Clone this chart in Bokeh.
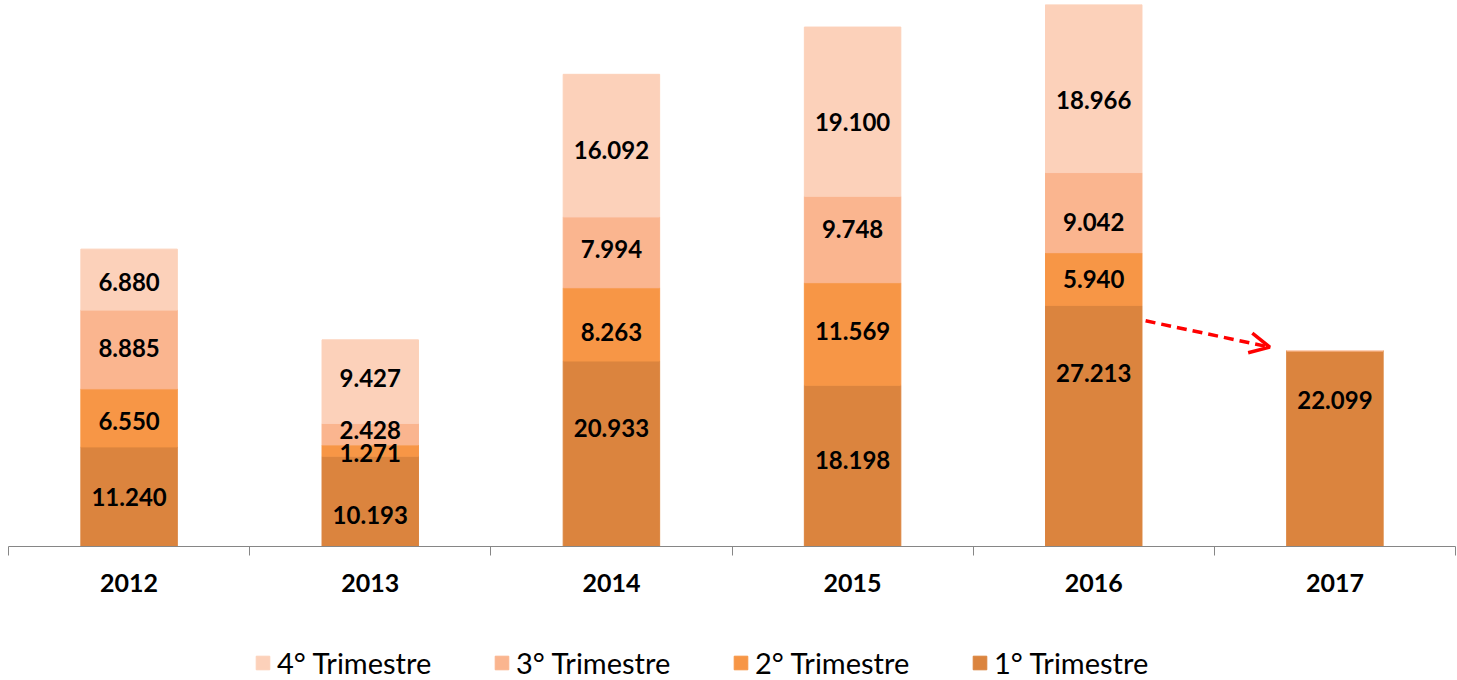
from bokeh.plotting import figure
from bokeh.layouts import column
from bokeh.models import FixedTicker, Range1d, Arrow, OpenHead, Legend, LegendItem, ColumnDataSource
from bokeh.embed import file_html
from bokeh.resources import INLINE
from bokeh.core.properties import value

# ---- data ----
years = ["2012", "2013", "2014", "2015", "2016", "2017"]
q1 = [11240, 10193, 20933, 18198, 27213, 22099]
q2 = [6550, 1271, 8263, 11569, 5940, 0]
q3 = [8885, 2428, 7994, 9748, 9042, 0]
q4 = [6880, 9427, 16092, 19100, 18966, 0]
series_names = ["1° Trimestre", "2° Trimestre", "3° Trimestre", "4° Trimestre"]
colors = ["#DB843E", "#F79646", "#FAB58F", "#FCD1BA"]

# label nudges in pixels (positive = down), per series per year
label_dy = [
    [0, 14, -26, -6, -53, -49],
    [3, 2, 8, -3, 0, 0],
    [-1, -4, -3, -11, 9, 0],
    [2, -4, 4, 10, 11, 0],
]

series = [q1, q2, q3, q4]
xs = [i + 0.5 for i in range(len(years))]
bar_w = 0.4
totals = [sum(v) for v in zip(*series)]
y_end = max(totals)
top_b = 4
frame_h = 542
px_per_unit = frame_h / y_end

W = 1457
H1 = 612
H2 = 68
p = figure(width=W, height=H1, output_backend="svg", toolbar_location=None,
           x_range=Range1d(0, len(years)), y_range=Range1d(0, y_end),
           min_border_left=8, min_border_right=2, min_border_top=top_b,
           min_border_bottom=H1 - frame_h - top_b)
p.outline_line_color = None
p.xgrid.visible = False
p.ygrid.visible = False
p.yaxis.visible = False

src = ColumnDataSource(dict(x=xs, q1=q1, q2=q2, q3=q3, q4=q4))
rs = p.vbar_stack(["q1", "q2", "q3", "q4"], x="x", width=bar_w, source=src,
                  fill_color=colors, line_color=colors)

# data labels
lx, ly, lt = [], [], []
for si, vals in enumerate(series):
    for yi, v in enumerate(vals):
        if v <= 0:
            continue
        bottom = sum(series[k][yi] for k in range(si))
        c = bottom + v / 2 - label_dy[si][yi] / px_per_unit
        lx.append(xs[yi])
        ly.append(c)
        lt.append(f"{v:,}".replace(",", "."))
p.text(x=lx, y=ly, text=lt, text_align="center", text_baseline="middle",
       text_font=value("Lato"), text_font_style="bold", text_font_size="24px",
       text_color="black")

# arrow 2016 -> 2017
arrow = Arrow(end=OpenHead(size=20, line_color="red", line_width=3.5),
              x_start=xs[4] + bar_w / 2 + 0.015, y_start=q1[4] * 0.936,
              x_end=xs[5] - bar_w / 2 - 0.07, y_end=q1[5] * 1.018,
              line_color="red", line_width=3.5, line_dash="10 6")
p.add_layout(arrow)

# x axis
ax = p.xaxis[0]
ax.ticker = FixedTicker(ticks=xs, minor_ticks=list(range(len(years) + 1)))
ax.major_label_overrides = {x: y for x, y in zip(xs, years)}
ax.major_tick_out = 0
ax.major_tick_in = 0
ax.minor_tick_out = 9
ax.minor_tick_in = 0
ax.minor_tick_line_color = "#868686"
ax.axis_line_color = "#868686"
ax.major_label_standoff = 18
ax.major_label_text_font = "Lato"
ax.major_label_text_font_style = "bold"
ax.major_label_text_font_size = "25px"
ax.major_label_text_color = "black"

# legend figure
p2 = figure(width=W, height=H2, output_backend="svg", toolbar_location=None,
            x_range=Range1d(0, 1), y_range=Range1d(0, 1),
            min_border_left=0, min_border_right=0, min_border_top=0, min_border_bottom=0)
p2.outline_line_color = None
p2.xgrid.visible = False
p2.ygrid.visible = False
p2.xaxis.visible = False
p2.yaxis.visible = False
dummy_src = ColumnDataSource(dict(x=[-5], top=[-5]))
dummies = [p2.vbar(x="x", top="top", width=0.1, source=dummy_src,
                   fill_color=c, line_color=c) for c in colors]
items = [LegendItem(label=series_names[i], renderers=[dummies[i]]) for i in [3, 2, 1, 0]]
legend = Legend(items=items, orientation="horizontal", location=(246, 0),
                glyph_width=17, glyph_height=17, label_standoff=6, label_width=190,
                spacing=26, padding=0, margin=0,
                label_text_font="Lato", label_text_font_size="29px",
                label_text_color="black", border_line_color=None,
                background_fill_alpha=0)
p2.add_layout(legend, "center")

open("out.html", "w").write(file_html(column(p, p2, spacing=0), INLINE))
